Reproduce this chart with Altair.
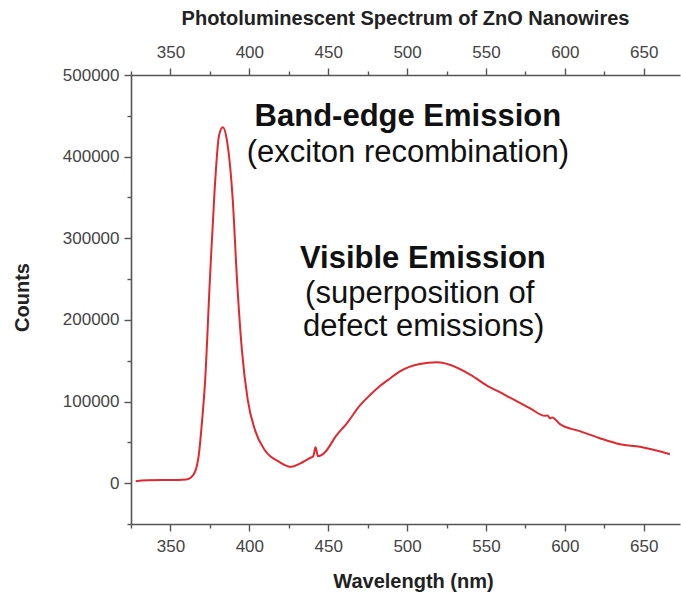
import altair as alt
import pandas as pd

# Photoluminescence spectrum of ZnO nanowires (wavelength in nm, detector counts)
wavelength = [
    328, 335, 345, 355, 360, 363, 366, 368, 370, 372, 375, 378, 380.8, 383.2,
    385.8, 389.5, 392.2, 395.3, 399, 403.6, 410, 419, 426.5, 432, 438, 440.5,
    442, 443.5, 448, 455, 461.7, 470, 476.5, 482.8, 489, 495.5, 508, 519, 527,
    540, 552, 558.8, 565.2, 577.8, 587.4, 589, 590.5, 592, 596.9, 609.5, 622.2,
    635, 647.6, 666.6,
]
counts = [
    2500, 3500, 4000, 4000, 4500, 7000, 16000, 35000, 75000, 126000, 249000,
    359000, 426000, 436000, 420000, 347000, 249000, 163000, 102000, 65000,
    40000, 26000, 20000, 24000, 30500, 33000, 44000, 33000, 38000, 58000,
    73000, 95000, 108000, 119000, 128000, 137000, 146000, 148000, 145000,
    133000, 118000, 111500, 104700, 92000, 82500, 83000, 79500, 80500, 72300,
    63700, 55100, 47800, 44500, 35500,
]

# Annotations placed in data coordinates
bold_text = ["Band-edge Emission", "Visible Emission"]
bold_x = [500.5, 510]
bold_y = [437500, 263500]
plain_text = ["(exciton recombination)", "(superposition of", "defect emissions)"]
plain_x = [500.5, 508, 510.5]
plain_y = [393000, 220600, 180000]

x_ticks = list(range(325, 651, 25))
y_ticks = list(range(-50000, 500001, 50000))

spectrum = pd.DataFrame({"wavelength": wavelength, "counts": counts})
bold_df = pd.DataFrame({"label": bold_text, "wavelength": bold_x, "counts": bold_y})
plain_df = pd.DataFrame({"label": plain_text, "wavelength": plain_x, "counts": plain_y})

FONT = "Liberation Sans"
AXIS_GREY = "#555555"
LABEL_GREY = "#444444"

x_scale = alt.Scale(domain=[325, 673], nice=False, zero=False)
y_scale = alt.Scale(domain=[-50000, 500000], nice=False, zero=False)

common_axis = dict(
    grid=False,
    domainColor=AXIS_GREY,
    domainWidth=1.6,
    tickColor=AXIS_GREY,
    tickWidth=1.4,
    labelFont=FONT,
    labelFontSize=17,
    labelColor=LABEL_GREY,
    titleFont=FONT,
    titleFontSize=20,
    titleFontWeight="bold",
    titleColor="#222222",
    labelFlush=False,
    labelOverlap=False,
)

x_tick_size = {"condition": {"test": "datum.value % 50 !== 0", "value": 4}, "value": 7}
y_tick_size = {"condition": {"test": "datum.value % 100000 !== 0", "value": 4}, "value": 7}

bottom_axis = alt.Axis(
    orient="bottom",
    values=x_ticks,
    format="d",
    labelExpr="datum.value % 50 === 0 ? datum.label : ''",
    tickSize=x_tick_size,
    labelPadding=7,
    title="Wavelength (nm)",
    titleX=282,
    titleY=63,
    titleBaseline="alphabetic",
    **common_axis,
)

top_axis = alt.Axis(
    orient="top",
    values=x_ticks,
    format="d",
    labelExpr="datum.value % 50 === 0 ? datum.label : ''",
    tickSize=x_tick_size,
    labelPadding=7,
    title="Photoluminescent Spectrum of ZnO Nanowires",
    titleX=274,
    titleY=-51,
    titleBaseline="alphabetic",
    **common_axis,
)

left_axis = alt.Axis(
    orient="left",
    values=y_ticks,
    format="d",
    labelExpr="datum.value % 100000 === 0 ? datum.label : ''",
    tickSize=y_tick_size,
    labelPadding=5,
    title="Counts",
    titleX=-109,
    titleY=222,
    titleAngle=270,
    titleAlign="center",
    titleBaseline="middle",
    **common_axis,
)

line = alt.Chart(spectrum).mark_line(
    color="#e0282e", strokeWidth=2, interpolate="monotone", clip=True
).encode(
    x=alt.X("wavelength:Q", scale=x_scale, axis=bottom_axis),
    y=alt.Y("counts:Q", scale=y_scale, axis=left_axis),
)

bold_labels = alt.Chart(bold_df).mark_text(
    font=FONT, fontSize=31, fontWeight="bold", color="#111111",
    align="center", baseline="alphabetic",
).encode(
    x=alt.X("wavelength:Q", scale=x_scale, axis=top_axis),
    y=alt.Y("counts:Q", scale=y_scale, axis=None),
    text="label:N",
)

plain_labels = alt.Chart(plain_df).mark_text(
    font=FONT, fontSize=31, color="#111111",
    align="center", baseline="alphabetic",
).encode(
    x=alt.X("wavelength:Q", scale=x_scale, axis=None),
    y=alt.Y("counts:Q", scale=y_scale, axis=None),
    text="label:N",
)

chart = alt.layer(line, bold_labels, plain_labels).resolve_axis(
    x="independent", y="independent"
).properties(
    width=549,
    height=449,
    autosize=alt.AutoSizeParams(type="none"),
    padding={"left": 131, "top": 75, "right": 1, "bottom": 70},
    background="white",
).configure_view(strokeWidth=0)

chart.save("out.html", embed_options={"renderer": "svg", "actions": False})
